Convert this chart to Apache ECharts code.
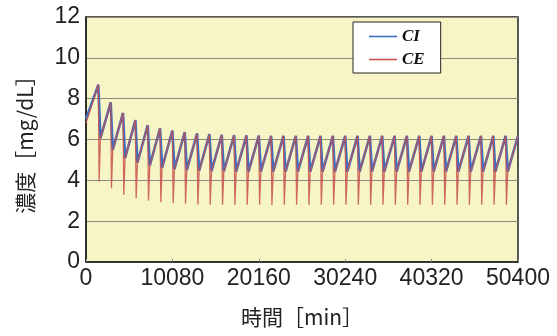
<!DOCTYPE html>
<html>
<head>
<meta charset="utf-8">
<script src="https://cdn.jsdelivr.net/npm/echarts@6/dist/echarts.min.js"></script>
<style>
html,body{margin:0;padding:0;background:#fff;}
#chart{width:557px;height:336px;}
</style>
</head>
<body>
<div id="chart"></div>
<script>
// ---- data ----
const xTicks = [0, 10080, 20160, 30240, 40320, 50400];
const cycleMinutes = 1440;      // one cycle per day
const ceLowOffset = 90;         // minutes after peak where CE reaches its low
const troughOffset = 240;       // minutes after peak where CI reaches its trough
const startCI = 7.0;
const startCE = 6.8;
// peak values (end of each day, 35 days)
const peakCI = [8.68, 7.82, 7.30, 6.95, 6.70, 6.55, 6.44, 6.36, 6.30, 6.26,
                6.23, 6.21, 6.20, 6.19, 6.18, 6.18, 6.18, 6.18, 6.18, 6.18,
                6.18, 6.18, 6.18, 6.18, 6.18, 6.18, 6.18, 6.18, 6.18, 6.18,
                6.18, 6.18, 6.18, 6.18, 6.18];
// CI trough after each dialysis (34)
const troughCI = [6.06, 5.49, 5.08, 4.86, 4.72, 4.62, 4.55, 4.50, 4.47, 4.45,
                  4.44, 4.43, 4.43, 4.43, 4.43, 4.43, 4.43, 4.43, 4.43, 4.43,
                  4.43, 4.43, 4.43, 4.43, 4.43, 4.43, 4.43, 4.43, 4.43, 4.43,
                  4.43, 4.43, 4.43, 4.43];
// CE low after each dialysis (34)
const lowCE = [3.94, 3.61, 3.28, 3.12, 3.00, 2.93, 2.88, 2.85, 2.82, 2.80,
               2.80, 2.79, 2.80, 2.80, 2.79, 2.80, 2.80, 2.79, 2.80, 2.80,
               2.80, 2.80, 2.80, 2.80, 2.80, 2.80, 2.80, 2.80, 2.80, 2.80,
               2.80, 2.80, 2.80, 2.80];

// ---- build series ----
const ciData = [[0, startCI]];
const ceData = [[0, startCE]];
for (let k = 0; k < peakCI.length; k++) {
  const t = cycleMinutes * (k + 1);
  ciData.push([t, peakCI[k]]);
  ceData.push([t, peakCI[k]]);
  if (k < troughCI.length) {
    ciData.push([t + troughOffset, troughCI[k]]);
    ceData.push([t + ceLowOffset, lowCE[k]]);
    ceData.push([t + troughOffset, troughCI[k]]);
  }
}

const chart = echarts.init(document.getElementById('chart'), null, {renderer: 'canvas'});
const labelFont = '"Liberation Sans", Arial, sans-serif';
chart.setOption({
  animation: false,
  backgroundColor: '#ffffff',
  grid: {
    left: 86, right: 39, top: 17, bottom: 74,
    show: true, backgroundColor: '#f7f5c6', borderColor: '#222', borderWidth: 1.5
  },
  legend: {
    data: ['CI', 'CE'],
    orient: 'vertical',
    left: 353, top: 22,
    backgroundColor: '#ffffff',
    borderColor: '#222', borderWidth: 1,
    padding: [6, 16, 5, 16],
    icon: 'rect',
    itemWidth: 28, itemHeight: 1.6, itemGap: 6, itemTextGap: 3,
    textStyle: {fontFamily: '"Liberation Serif", "Times New Roman", serif', fontStyle: 'italic', fontWeight: 'bold', fontSize: 17, color: '#111'}
  },
  xAxis: {
    type: 'value', min: 0, max: 50400, interval: 10080,
    axisLine: {show: true, lineStyle: {color: '#222', width: 1.5}},
    axisTick: {show: true, inside: true, length: 3, lineStyle: {color: '#888'}},
    splitLine: {show: false},
    axisLabel: {fontFamily: labelFont, fontSize: 23, color: '#222', margin: 5,
      formatter: v => xTicks.indexOf(v) >= 0 ? String(v) : ''},
    name: '時間［min］', nameLocation: 'middle', nameGap: 45,
    nameTextStyle: {fontFamily: '"Noto Sans CJK JP", sans-serif', fontSize: 21, color: '#222'}
  },
  yAxis: {
    type: 'value', min: 0, max: 12, interval: 2,
    axisLine: {show: true, lineStyle: {color: '#222', width: 1.5}},
    axisTick: {show: false},
    splitLine: {show: true, lineStyle: {color: '#8e8c78', width: 1.2}},
    axisLabel: {fontFamily: labelFont, fontSize: 23, color: '#222', margin: 6},
    name: '濃度［mg/dL］', nameLocation: 'middle', nameGap: 50, nameRotate: 90,
    nameTextStyle: {fontFamily: '"Noto Sans CJK JP", sans-serif', fontSize: 21, color: '#222'}
  },
  series: [
    {name: 'CI', type: 'line', data: ciData, symbol: 'none', z: 2,
     lineStyle: {color: '#3f6fc2', width: 2.6}, itemStyle: {color: '#3f6fc2'}},
    {name: 'CE', type: 'line', data: ceData, symbol: 'none', z: 3,
     lineStyle: {color: '#c9504a', width: 1.3, opacity: 0.85}, itemStyle: {color: '#c9504a'}}
  ]
});
</script>
</body>
</html>
